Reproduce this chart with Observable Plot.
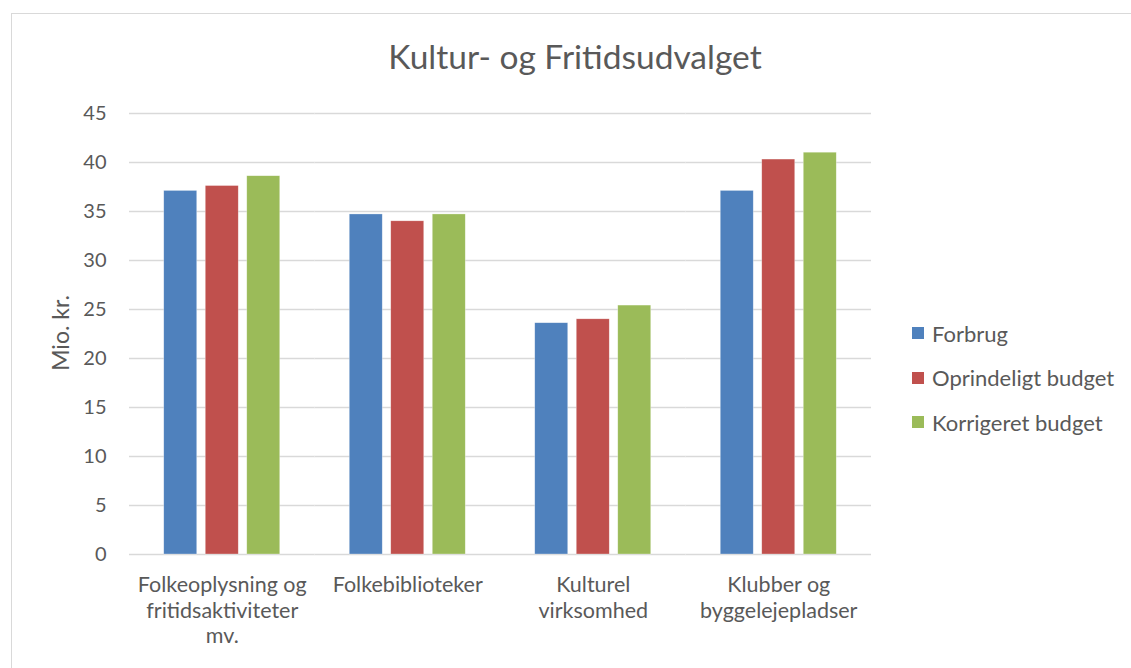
<!DOCTYPE html>
<html><head><meta charset="utf-8">
<script src="https://cdn.jsdelivr.net/npm/d3@7"></script>
<script src="https://cdn.jsdelivr.net/npm/@observablehq/plot@0.6"></script>
<style>
body{margin:0;background:#fff;font-family:Lato,"Open Sans",sans-serif;color:#595959;}
#wrap{position:relative;width:1131px;height:668px;overflow:hidden;}
#frame{position:absolute;left:11px;top:13px;width:1200px;height:700px;border:1.5px solid #d9d9d9;box-sizing:border-box;}
#title{position:absolute;left:0;width:1150px;top:36px;text-align:center;font-size:33.5px;}
#ylab{position:absolute;left:60px;top:333px;transform:translate(-50%,-50%) rotate(-90deg);font-size:23px;white-space:nowrap;}
#legend{position:absolute;left:912px;top:311px;font-size:22px;}
.li{display:flex;align-items:center;height:44.5px;}
.sw{width:12px;height:12px;margin-right:8px;}
#chart{position:absolute;left:0;top:0;}
</style></head><body>
<div id="wrap">
<div id="frame"></div>
<div id="chart"></div>
<div id="title">Kultur- og Fritidsudvalget</div>
<div id="ylab">Mio. kr.</div>
<div id="legend"></div>
</div>
<script>
const categories = ["Folkeoplysning og fritidsaktiviteter mv.", "Folkebiblioteker", "Kulturel virksomhed", "Klubber og byggelejepladser"];
const categoryLabels = ["Folkeoplysning og\nfritidsaktiviteter\nmv.", "Folkebiblioteker", "Kulturel\nvirksomhed", "Klubber og\nbyggelejepladser"];
const series = ["Forbrug", "Oprindeligt budget", "Korrigeret budget"];
const colors = ["#4F81BD", "#C0504D", "#9BBB59"];
const forbrug = [37.1, 34.7, 23.6, 37.1];
const oprindeligt = [37.6, 34.0, 24.0, 40.3];
const korrigeret = [38.6, 34.7, 25.4, 41.0];
const yTicks = [0, 5, 10, 15, 20, 25, 30, 35, 40, 45];

const values = [forbrug, oprindeligt, korrigeret];
const table = categories.flatMap((c, i) => series.map((s, j) => ({cat: c, series: s, value: values[j][i]})));

const chart = Plot.plot({
  width: 1131, height: 668,
  marginLeft: 129, marginRight: 260, marginTop: 113, marginBottom: 114,
  style: {fontFamily: "Lato, 'Open Sans', sans-serif", fontSize: "20px", color: "#595959", background: "transparent"},
  fx: {domain: categories, padding: 0, label: null, axis: null, round: false},
  x: {domain: series, paddingInner: 0.205, paddingOuter: 0.837, axis: null, round: false},
  y: {domain: [0, 45]},
  color: {domain: series, range: colors},
  marks: [
    Plot.ruleY(yTicks, {stroke: "#d9d9d9", strokeWidth: 1.5}),
    Plot.barY(table, {fx: "cat", x: "series", y: "value", fill: "series", stroke: "#fff", strokeOpacity: 0.5, strokeWidth: 0.6}),
    Plot.axisY({ticks: yTicks, tickSize: 0, tickPadding: 23, label: null, fontSize: 20}),
    Plot.axisFx({anchor: "bottom", tickSize: 0, tickPadding: 20, label: null, fontSize: 21.5, lineHeight: 1.17,
      tickFormat: d => categoryLabels[categories.indexOf(d)]})
  ]
});
document.getElementById("chart").appendChild(chart);

const leg = document.getElementById("legend");
series.forEach((s, i) => {
  const d = document.createElement("div"); d.className = "li";
  d.innerHTML = `<span class="sw" style="background:${colors[i]}"></span><span>${s}</span>`;
  leg.appendChild(d);
});
</script>
</body></html>
